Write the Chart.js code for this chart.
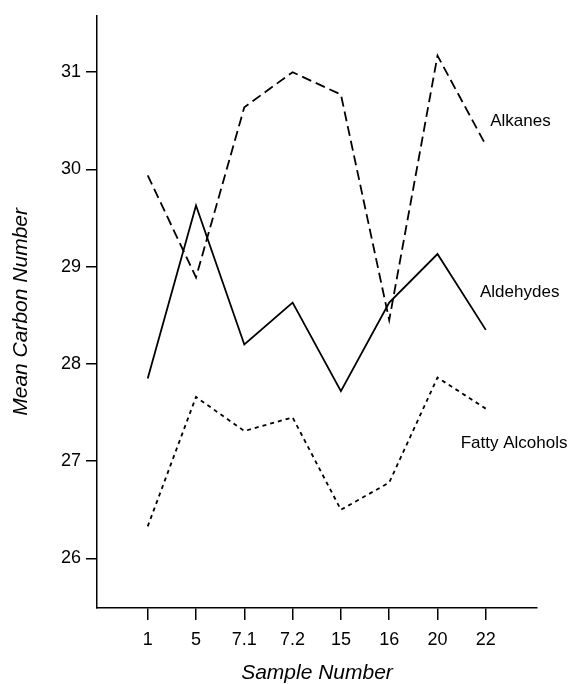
<!DOCTYPE html>
<html>
<head>
<meta charset="utf-8">
<script src="https://cdn.jsdelivr.net/npm/chart.js@4"></script>
<style>
    html, body { margin: 0; padding: 0; background: #fff; }
    #box { width: 580px; height: 684px; }
</style>
</head>
<body>
<div id="box"><canvas id="grafico"></canvas></div>
<script>
// amostras (eixo x)
const amostras = ['1', '5', '7.1', '7.2', '15', '16', '20', '22'];
const ticksY = [26, 27, 28, 29, 30, 31];

// numero medio de carbonos
const alcanos = [29.94, 28.89, 30.64, 31.00, 30.77, 28.45, 31.17, 30.25];
const aldeidos = [27.85, 29.63, 28.20, 28.63, 27.72, 28.63, 29.13, 28.35];
const alcoois = [26.33, 27.66, 27.31, 27.45, 26.50, 26.78, 27.86, 27.54];

// rotulos das curvas (posicao em coordenadas dos dados)
const rotulos = ['Alkanes', 'Aldehydes', 'Fatty Alcohols'];
const rotuloX = [7.09, 6.88, 6.48];
const rotuloY = [30.49, 28.74, 27.18];

const fonte = "'Liberation Sans', Arial, sans-serif";

function serie(valores) {
    return valores.map((v, i) => ({ x: i, y: v }));
}

const rotulosPlugin = {
    id: 'rotulos',
    afterDatasetsDraw(chart) {
        const ctx = chart.ctx;
        const sx = chart.scales.x, sy = chart.scales.y;
        ctx.save();
        ctx.fillStyle = '#000';
        ctx.font = '17px ' + fonte;
        ctx.textAlign = 'left';
        ctx.textBaseline = 'middle';
        rotulos.forEach((t, i) => {
            ctx.fillText(t, sx.getPixelForValue(rotuloX[i]), sy.getPixelForValue(rotuloY[i]));
        });
        ctx.restore();
    }
};

const base = { borderColor: '#000', borderWidth: 1.8, pointRadius: 0, fill: false, tension: 0 };

new Chart(document.getElementById('grafico'), {
    type: 'line',
    data: {
        datasets: [
            Object.assign({ label: 'Alkanes', data: serie(alcanos), borderDash: [10, 5] }, base),
            Object.assign({ label: 'Aldehydes', data: serie(aldeidos) }, base),
            Object.assign({ label: 'Fatty Alcohols', data: serie(alcoois), borderDash: [4, 4] }, base)
        ]
    },
    options: {
        responsive: true,
        maintainAspectRatio: false,
        animation: false,
        layout: { padding: { top: 14, right: 43, left: 0, bottom: 0 } },
        plugins: { legend: { display: false }, tooltip: { enabled: false } },
        scales: {
            x: {
                type: 'linear',
                min: -1.05,
                max: 8.06,
                afterBuildTicks: axis => { axis.ticks = amostras.map((_, i) => ({ value: i })); },
                afterFit: axis => { axis.height = 76; },
                border: { display: true, color: '#000', width: 1.5 },
                grid: { drawOnChartArea: false, drawTicks: true, tickLength: 12, color: '#000', lineWidth: 1.5 },
                ticks: {
                    color: '#000',
                    font: { family: fonte, size: 18 },
                    padding: 9,
                    maxRotation: 0,
                    callback: v => amostras[v] !== undefined ? amostras[v] : ''
                },
                title: {
                    display: true,
                    text: 'Sample Number',
                    color: '#000',
                    font: { family: fonte, size: 21, style: 'italic', lineHeight: 1 },
                    padding: { top: 6, bottom: 0 }
                }
            },
            y: {
                min: 25.49,
                max: 31.58,
                afterBuildTicks: axis => { axis.ticks = ticksY.map(v => ({ value: v })); },
                afterFit: axis => { axis.width = 97; },
                border: { display: true, color: '#000', width: 1.5 },
                grid: { drawOnChartArea: false, drawTicks: true, tickLength: 11, color: '#000', lineWidth: 1.5 },
                ticks: {
                    color: '#000',
                    font: { family: fonte, size: 18 },
                    padding: 5
                },
                title: {
                    display: true,
                    text: 'Mean Carbon Number',
                    color: '#000',
                    font: { family: fonte, size: 21, style: 'italic' },
                    padding: { top: 9, bottom: 0 }
                }
            }
        }
    },
    plugins: [rotulosPlugin]
});
</script>
</body>
</html>
